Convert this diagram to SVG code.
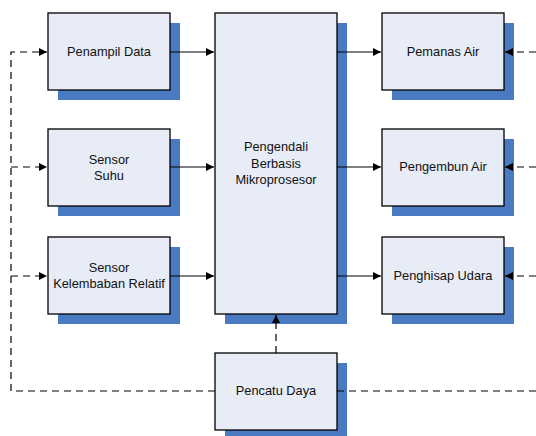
<svg xmlns="http://www.w3.org/2000/svg" width="536" height="436" viewBox="0 0 536 436">
<style>
.sh{fill:#4A7AC2}
.bx{fill:#E7ECF7;stroke:#000;stroke-width:1.3}
text{font-family:"Liberation Sans",Arial,sans-serif;font-size:12.8px;fill:#111;text-anchor:middle}
.c{stroke:#000;stroke-width:1.2;fill:none}
.d{stroke:#000;stroke-width:1.2;fill:none;stroke-dasharray:7,5}
</style>
<defs>
<marker id="a" viewBox="0 0 10 10" refX="10" refY="5" markerWidth="10" markerHeight="8" markerUnits="userSpaceOnUse" orient="auto">
<path d="M0,0L10,5L0,10z" fill="#000"/>
</marker>
</defs>
<rect width="536" height="436" fill="#fff"/>
<g id="penampil">
<rect class="sh" x="58" y="23" width="122" height="77"/>
<rect class="bx" x="48" y="13" width="122" height="77"/>
<text x="109" y="56">Penampil Data</text>
</g>
<g id="suhu">
<rect class="sh" x="58" y="139" width="122" height="77"/>
<rect class="bx" x="48" y="129" width="122" height="77"/>
<text x="109" y="164">Sensor</text>
<text x="109" y="180">Suhu</text>
</g>
<g id="kelembaban">
<rect class="sh" x="58" y="247" width="122" height="77"/>
<rect class="bx" x="48" y="237" width="122" height="77"/>
<text x="109" y="272">Sensor</text>
<text x="109" y="288">Kelembaban Relatif</text>
</g>
<g id="pengendali">
<rect class="sh" x="225" y="23" width="122" height="301"/>
<rect class="bx" x="215" y="13" width="122" height="301"/>
<text x="276" y="151">Pengendali</text>
<text x="276" y="168">Berbasis</text>
<text x="276" y="184">Mikroprosesor</text>
</g>
<g id="pemanas">
<rect class="sh" x="392" y="23" width="122" height="77"/>
<rect class="bx" x="382" y="13" width="122" height="77"/>
<text x="443" y="56">Pemanas Air</text>
</g>
<g id="pengembun">
<rect class="sh" x="392" y="139" width="122" height="77"/>
<rect class="bx" x="382" y="129" width="122" height="77"/>
<text x="443" y="171">Pengembun Air</text>
</g>
<g id="penghisap">
<rect class="sh" x="392" y="247" width="122" height="77"/>
<rect class="bx" x="382" y="237" width="122" height="77"/>
<text x="443" y="280">Penghisap Udara</text>
</g>
<g id="pencatu">
<rect class="sh" x="225" y="363" width="122" height="77"/>
<rect class="bx" x="215" y="353" width="122" height="77"/>
<text x="276" y="395">Pencatu Daya</text>
</g>
<g id="connectors">
<path class="c" d="M170,52H214" marker-end="url(#a)"/>
<path class="c" d="M170,167H214" marker-end="url(#a)"/>
<path class="c" d="M170,276H214" marker-end="url(#a)"/>
<path class="c" d="M337,52H381" marker-end="url(#a)"/>
<path class="c" d="M337,167H381" marker-end="url(#a)"/>
<path class="c" d="M337,276H381" marker-end="url(#a)"/>
<path class="d" d="M215,391H11V52H47" marker-end="url(#a)"/>
<path class="d" d="M11,167H47" marker-end="url(#a)"/>
<path class="d" d="M11,276H47" marker-end="url(#a)"/>
<path class="d" d="M337,391H536"/>
<path class="d" d="M536,52H505" marker-end="url(#a)"/>
<path class="d" d="M536,167H505" marker-end="url(#a)"/>
<path class="d" d="M536,276H505" marker-end="url(#a)"/>
<path class="d" d="M276,353V315" marker-end="url(#a)"/>
</g>
</svg>
